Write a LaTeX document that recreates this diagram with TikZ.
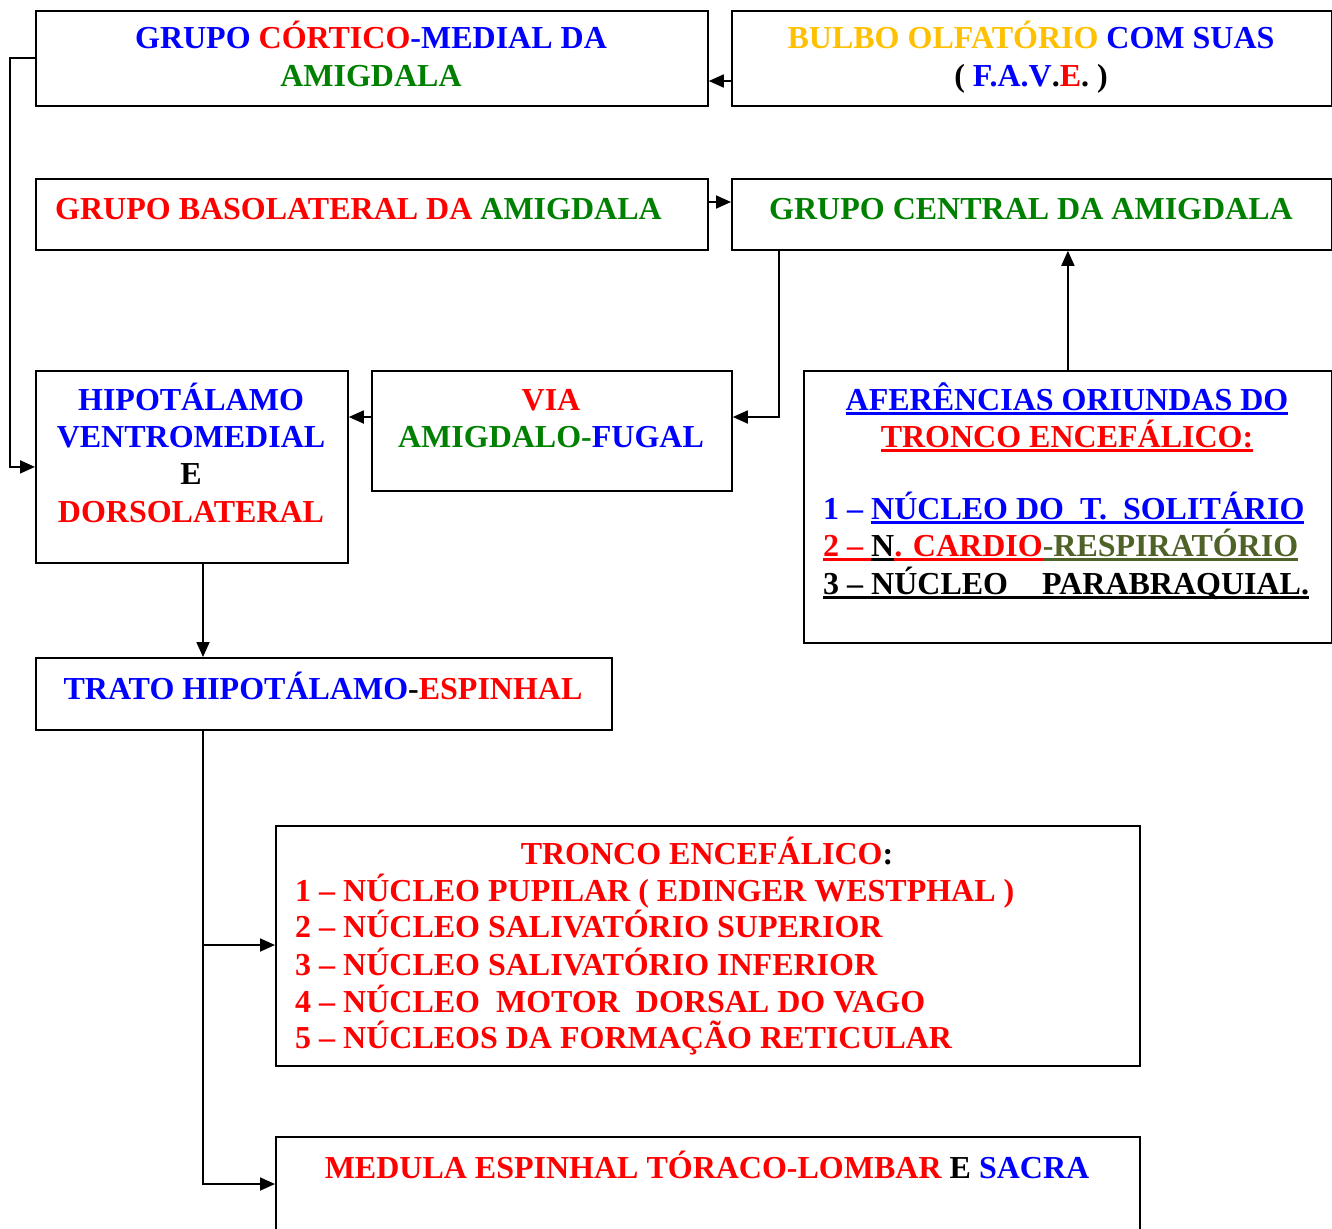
\documentclass[tikz,border=0pt]{standalone}
\usepackage{fontspec}
\setmainfont{Liberation Serif}
\usetikzlibrary{arrows.meta}
\definecolor{cblue}{RGB}{0,0,255}
\definecolor{cred}{RGB}{255,0,0}
\definecolor{cgreen}{RGB}{0,128,0}
\definecolor{cgold}{RGB}{255,192,0}
\definecolor{colive}{RGB}{79,98,40}
% thick underline drawn in the current colour
\newcommand\ulbar[1]{\leavevmode\setbox0\hbox{#1}\rlap{\rule[-5pt]{\wd0}{3pt}}\box0}
\newcommand\bl[1]{\textcolor{cblue}{#1}}
\newcommand\rd[1]{\textcolor{cred}{#1}}
\newcommand\gr[1]{\textcolor{cgreen}{#1}}
\begin{document}
\begin{tikzpicture}[x=1pt,y=-1pt,
  box/.style={draw, line width=1.8pt, inner sep=0pt, anchor=north west},
  txt/.style={anchor=base, inner sep=0pt, font=\fontsize{32}{37}\selectfont\bfseries},
  ltxt/.style={txt, anchor=base west},
  link/.style={line width=1.8pt},
  arr/.style={link, -{Triangle[length=15pt,width=13pt]}}]
\useasboundingbox (0,0) rectangle (1332,1228);

% boxes
\node[box, minimum width=672pt, minimum height=95pt] (cm) at (35,10) {};
\node[box, minimum width=600pt, minimum height=95pt] (bo) at (731,10) {};
\node[box, minimum width=672pt, minimum height=71pt] (bl) at (35,178) {};
\node[box, minimum width=600pt, minimum height=71pt] (ce) at (731,178) {};
\node[box, minimum width=312pt, minimum height=192pt] (hip) at (35,370) {};
\node[box, minimum width=360pt, minimum height=120pt] (via) at (371,370) {};
\node[box, minimum width=528pt, minimum height=272pt] (af) at (803,370) {};
\node[box, minimum width=576pt, minimum height=72pt] (tr) at (35,657) {};
\node[box, minimum width=864pt, minimum height=240pt] (tc) at (275,825) {};
\node[box, minimum width=864pt, minimum height=110pt] (med) at (275,1136) {};

% texts
\node[txt] (cm1) at (371,49) {\bl{GRUPO }\rd{CÓRTICO}\bl{-MEDIAL DA}};
\node[txt] (cm2) at (371,87) {\gr{AMIGDALA}};
\node[txt] (bo1) at (1031,49) {\textcolor{cgold}{BULBO OLFATÓRIO }\bl{COM SUAS}};
\node[txt] (bo2) at (1031,87) {( \bl{F.A.V}.\rd{E}. )};
\node[ltxt] (bl1) at (55,219) {\rd{GRUPO BASOLATERAL DA }\gr{AMIGDALA}};
\node[txt] (ce1) at (1031,219) {\gr{GRUPO CENTRAL DA AMIGDALA}};
\node[txt] (hip1) at (191,410) {\bl{HIPOTÁLAMO}};
\node[txt] (hip2) at (191,447) {\bl{VENTROMEDIAL}};
\node[txt] (hip3) at (191,484) {E};
\node[txt] (hip4) at (191,522) {\rd{DORSOLATERAL}};
\node[txt] (via1) at (551,410) {\rd{VIA}};
\node[txt] (via2) at (551,447) {\gr{AMIGDALO-}\bl{FUGAL}};
\node[txt] (af1) at (1067,410) {\bl{\ulbar{AFERÊNCIAS ORIUNDAS DO}}};
\node[txt] (af2) at (1067,447) {\rd{\ulbar{TRONCO ENCEFÁLICO:}}};
\node[ltxt] (af3) at (823,519) {\bl{1 – \ulbar{NÚCLEO DO\ \ T.\ \ SOLITÁRIO}}};
\node[ltxt] (af4) at (823,556) {\rd{\ulbar{2 – }}\ulbar{N}\rd{\ulbar{. CARDIO}}\textcolor{colive}{\ulbar{-RESPIRATÓRIO}}};
\node[ltxt] (af5) at (823,594) {\ulbar{3 – NÚCLEO\hspace{34pt}PARABRAQUIAL.}};
\node[txt] (tr1) at (323,699) {\bl{TRATO HIPOTÁLAMO}-\rd{ESPINHAL}};
\node[txt] (tc0) at (707,864) {\rd{TRONCO ENCEFÁLICO}:};
\node[ltxt] (tc1) at (295,901) {\rd{1 – NÚCLEO PUPILAR ( EDINGER WESTPHAL )}};
\node[ltxt] (tc2) at (295,937) {\rd{2 – NÚCLEO SALIVATÓRIO SUPERIOR}};
\node[ltxt] (tc3) at (295,975) {\rd{3 – NÚCLEO SALIVATÓRIO INFERIOR}};
\node[ltxt] (tc4) at (295,1012) {\rd{4 – NÚCLEO\ \ MOTOR\ \ DORSAL DO VAGO}};
\node[ltxt] (tc5) at (295,1048) {\rd{5 – NÚCLEOS DA FORMAÇÃO RETICULAR}};
\node[txt] (med1) at (707,1178) {\rd{MEDULA ESPINHAL TÓRACO-LOMBAR }E \bl{SACRA}};

% connectors
\draw[arr] (bo.west |- 0,81) -- (cm.east |- 0,81);
\draw[arr] (cm.west) -- ++(-25,0) |- (hip.west);
\draw[arr] (bl.east |- 0,202) -- (ce.west |- 0,202);
\draw[arr] (ce.south -| 779,0) |- (via.east |- 0,417);
\draw[arr] (via.west |- 0,417) -- (hip.east |- 0,417);
\draw[arr] (af.north) -- (af.north |- ce.south);
\draw[arr] (hip.south -| 203,0) -- (tr.north -| 203,0);
\coordinate (fork) at (203,945);
\draw[arr] (tr.south -| 203,0) |- (med.west |- 0,1184);
\draw[arr] (fork) -- (fork -| tc.west);
\end{tikzpicture}
\end{document}
